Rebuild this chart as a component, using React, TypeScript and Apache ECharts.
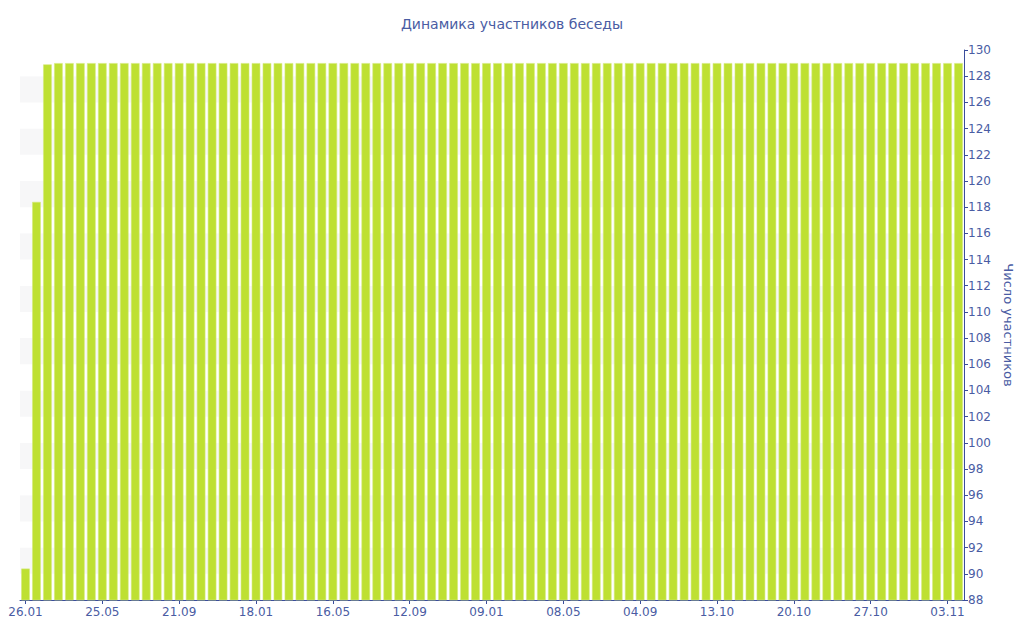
import React, { useEffect, useRef } from "react";
import * as echarts from "echarts";

const dates: string[] = [
  "26.01", "12.02", "01.03", "18.03", "04.04", "21.04", "08.05",
  "25.05", "11.06", "28.06", "15.07", "01.08", "18.08", "04.09",
  "21.09", "08.10", "25.10", "11.11", "28.11", "15.12", "01.01",
  "18.01", "04.02", "21.02", "09.03", "26.03", "12.04", "29.04",
  "16.05", "02.06", "19.06", "06.07", "23.07", "09.08", "26.08",
  "12.09", "29.09", "16.10", "02.11", "19.11", "06.12", "23.12",
  "09.01", "26.01", "12.02", "01.03", "18.03", "04.04", "21.04",
  "08.05", "25.05", "11.06", "28.06", "15.07", "01.08", "18.08",
  "04.09", "21.09", "08.10", "09.10", "10.10", "11.10", "12.10",
  "13.10", "14.10", "15.10", "16.10", "17.10", "18.10", "19.10",
  "20.10", "21.10", "22.10", "23.10", "24.10", "25.10", "26.10",
  "27.10", "28.10", "29.10", "30.10", "31.10", "01.11", "02.11",
  "03.11", "04.11",
];

const members: number[] = [
  90.4, 118.4, 128.9, 129, 129, 129, 129,
  129, 129, 129, 129, 129, 129, 129,
  129, 129, 129, 129, 129, 129, 129,
  129, 129, 129, 129, 129, 129, 129,
  129, 129, 129, 129, 129, 129, 129,
  129, 129, 129, 129, 129, 129, 129,
  129, 129, 129, 129, 129, 129, 129,
  129, 129, 129, 129, 129, 129, 129,
  129, 129, 129, 129, 129, 129, 129,
  129, 129, 129, 129, 129, 129, 129,
  129, 129, 129, 129, 129, 129, 129,
  129, 129, 129, 129, 129, 129, 129,
  129, 129,
];

const titleText = "Динамика участников беседы";
const yAxisName = "Число участников";

const TEXT = "#4a5ca3";
const AXIS = "#3b4d9c";
const FONT = "'DejaVu Sans', Verdana, sans-serif";

export default function App() {
  const ref = useRef<HTMLDivElement>(null);
  useEffect(() => {
    if (!ref.current) return;
    const chart = echarts.init(ref.current, undefined, { renderer: "svg" });
    chart.setOption({
      animation: false,
      backgroundColor: "#ffffff",
      title: {
        text: titleText,
        left: "center",
        top: 12,
        textStyle: { color: TEXT, fontSize: 14, fontWeight: "normal", fontFamily: FONT },
      },
      grid: { left: 20, right: 60, top: 50, bottom: 40, containLabel: false },
      xAxis: {
        type: "category",
        data: dates,
        boundaryGap: true,
        axisLine: { show: true, lineStyle: { color: AXIS, width: 1 } },
        axisTick: { show: true, alignWithLabel: true, interval: 6, length: 4, lineStyle: { color: AXIS } },
        axisLabel: { interval: 6, color: TEXT, fontSize: 12, fontFamily: FONT, margin: 6 },
        splitLine: { show: false },
      },
      yAxis: {
        type: "value",
        position: "right",
        min: 88,
        max: 130,
        interval: 2,
        name: yAxisName,
        nameLocation: "middle",
        nameRotate: -90,
        nameGap: 36,
        nameTextStyle: { color: TEXT, fontSize: 13, fontFamily: FONT },
        axisLine: { show: true, lineStyle: { color: AXIS, width: 1 } },
        axisTick: { show: true, length: 4, lineStyle: { color: AXIS } },
        axisLabel: { color: TEXT, fontSize: 12, fontFamily: FONT, margin: 4 },
        splitLine: { show: false },
        splitArea: { show: true, areaStyle: { color: ["#ffffff", "#f7f7f8"] } },
      },
      series: [
        {
          type: "bar",
          data: members,
          barCategoryGap: "22%",
          itemStyle: { color: "#bee032", borderColor: "#d3ea78", borderWidth: 0.6 },
        },
      ],
    });
    return () => chart.dispose();
  }, []);
  return (
    <div
      ref={ref}
      style={{ position: "fixed", left: 0, top: 0, width: 1024, height: 640 }}
    />
  );
}
